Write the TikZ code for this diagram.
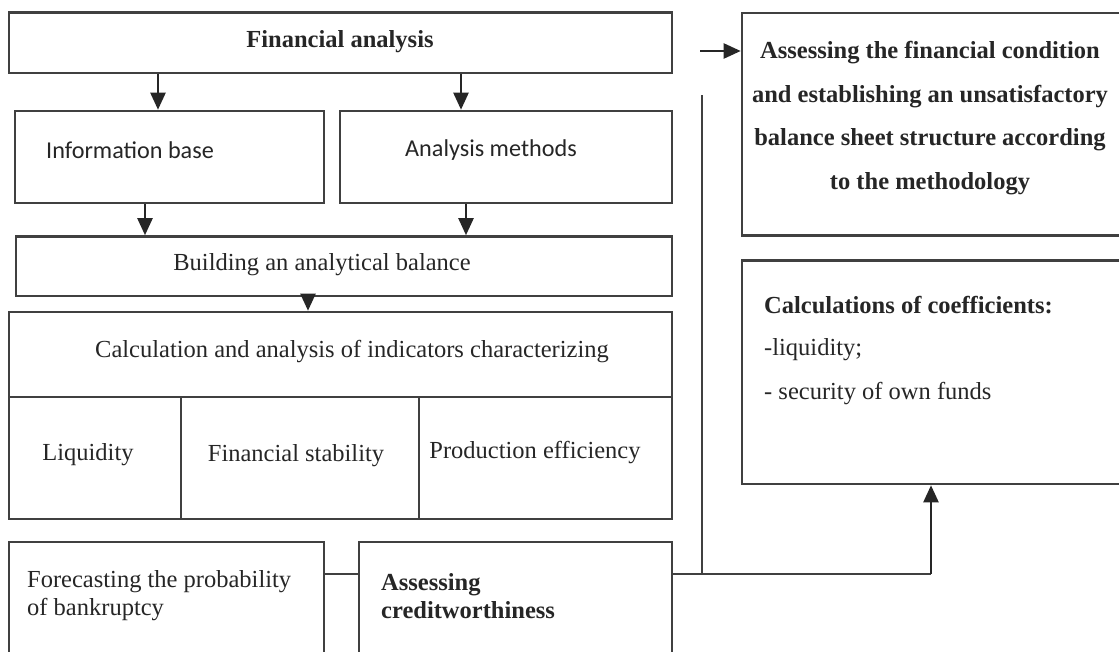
\documentclass[tikz,border=0pt]{standalone}
\usepackage{fontspec}
\setmainfont{Liberation Serif}
\newfontfamily\carl{Carlito}
\usetikzlibrary{arrows.meta}
\tikzset{
  every picture/.style={x=1pt,y=-1pt},
  box/.style={draw=black!75, line width=2.6pt, rectangle, inner sep=0pt},
  txt/.style={inner sep=0pt, text=black!85, font=\fontsize{24.5}{29}\selectfont},
  sans/.style={txt, font=\carl\fontsize{24.2}{29}\selectfont},
  arr/.style={draw=black!85, line width=2.3pt, -{Triangle[width=15pt,length=17pt]}},
  ln/.style={draw=black!75, line width=2.6pt},
}
\begin{document}
\begin{tikzpicture}
\useasboundingbox (0,0) rectangle (1119,651);
\fill[white] (0,0) rectangle (1119,651);
\clip (0,0) rectangle (1119,651);
% left column boxes
\node[box, minimum width=663pt, minimum height=60.5pt] (fa) at (340.5,42.75) {};
\node[txt, font=\fontsize{24.5}{29}\selectfont\bfseries] (fat) at (340,42) {Financial analysis};
\node[box, minimum width=309pt, minimum height=92pt] (ib) at (169.5,157) {};
\node[sans, anchor=west] (ibt) at (46,150) {Information base};
\node[box, minimum width=332pt, minimum height=92pt] (am) at (506,157) {};
\node[sans] (amt) at (491,150) {Analysis methods};
\node[box, minimum width=656pt, minimum height=59.5pt] (ab) at (344,266.25) {};
\node[txt] (abt) at (322,265) {Building an analytical balance};
% calculation block
\node[box, minimum width=663pt, minimum height=85pt] (ca) at (340.5,354.5) {};
\node[txt] (cat) at (352,352) {Calculation and analysis of indicators characterizing};
\node[box, minimum width=172pt, minimum height=122pt] (liq) at (95,458) {};
\node[box, minimum width=238pt, minimum height=122pt] (fs) at (300,458) {};
\node[box, minimum width=253pt, minimum height=122pt] (pe) at (545.5,458) {};
\node[txt] (liqt) at (88,455) {Liquidity};
\node[txt] (fst) at (296,456) {Financial stability};
\node[txt] (pet) at (535,453) {Production efficiency};
% bottom boxes
\node[box, minimum width=315pt, minimum height=123pt] (fc) at (166.5,603.5) {};
\node[txt, anchor=west, align=left, font=\fontsize{24.5}{28}\selectfont] (fct) at (27,596) {Forecasting the probability\\of bankruptcy};
\node[box, minimum width=313pt, minimum height=123pt] (ac) at (515.5,603.5) {};
\node[txt, anchor=west, align=left, font=\fontsize{24.5}{28}\selectfont\bfseries] (act) at (381,596) {Assessing\\creditworthiness};
% right boxes
\node[box, minimum width=383pt, minimum height=222.5pt] (r1) at (933.5,124.25) {};
\node[txt, align=center, font=\fontsize{24.5}{43.7}\selectfont\bfseries] (r1t) at (930,118) {Assessing the financial condition\\and establishing an unsatisfactory\\balance sheet structure according\\to the methodology};
\node[box, minimum width=383pt, minimum height=223.5pt] (r2) at (933.5,372.25) {};
\node[txt, anchor=west, font=\fontsize{24.5}{29}\selectfont\bfseries] (r2a) at (764,305) {Calculations of coefficients:};
\node[txt, anchor=west] (r2b) at (764,350) {-liquidity;};
\node[txt, anchor=west] (r2c) at (764,394) {- security of own funds};
% connectors
\draw[arr] (fa.south -| 158,0) -- (ib.north -| 158,0);
\draw[arr] (fa.south -| 461,0) -- (am.north -| 461,0);
\draw[arr] (ib.south -| 145,0) -- (ab.north -| 145,0);
\draw[arr] (am.south -| 466,0) -- (ab.north -| 466,0);
\draw[arr] (ab.south -| 308,0) -- (ca.north -| 308,0);
\coordinate (s1) at (700,51);
\draw[arr] (s1) -- (s1 -| r1.west);
\coordinate (vt) at (702,95);
\coordinate (vb) at (702,574);
\draw[ln] (vt) -- (vb);
\draw[ln] (fc.east |- 0,574) -- (ac.west |- 0,574);
\coordinate (j) at (931,574);
\draw[ln] (ac.east |- 0,574) -- (j);
\draw[arr] (j) -- (r2.south -| j);
\end{tikzpicture}
\end{document}
